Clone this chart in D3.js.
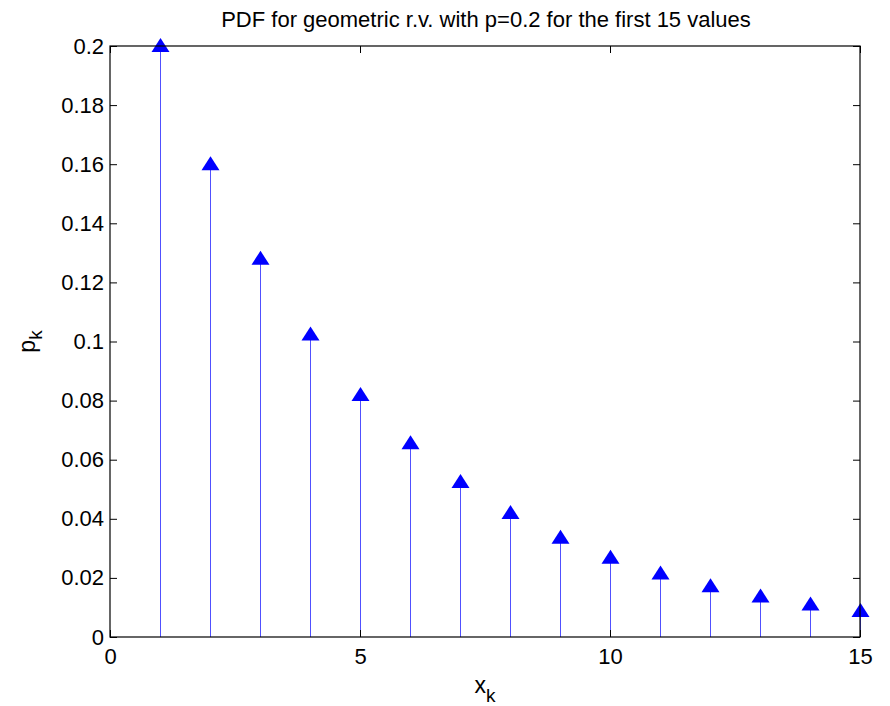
<!DOCTYPE html>
<html><head><meta charset="utf-8">
<script src="https://cdn.jsdelivr.net/npm/d3@7"></script>
<style>body{margin:0;background:#fff}svg{display:block}text{font-family:"Liberation Sans",Arial,sans-serif;fill:#000}</style>
</head><body><svg id="c" width="890" height="706"></svg>
<script>
const xk = [1,2,3,4,5,6,7,8,9,10,11,12,13,14,15];
const pk = [0.2,0.16,0.128,0.1024,0.08192,0.065536,0.0524288,0.04194304,0.033554432,0.0268435456,0.02147483648,0.017179869184,0.0137438953472,0.01099511627776,0.008796093022208];
const xTicks = [0,5,10,15];
const yTicks = [0,0.02,0.04,0.06,0.08,0.1,0.12,0.14,0.16,0.18,0.2];
const title = "PDF for geometric r.v. with p=0.2 for the first 15 values";

const svg = d3.select("#c");
const L=110,R=860,T=46,B=637;
const x = d3.scaleLinear().domain([0,15]).range([L,R]);
const y = d3.scaleLinear().domain([0,0.2]).range([B,T]);
const fs = 22;

// stems
svg.append("g").selectAll("line").data(xk).join("line")
  .attr("x1",d=>x(d)+0.5).attr("x2",d=>x(d)+0.5)
  .attr("y1",y(0)).attr("y2",(d,i)=>y(pk[i]))
  .attr("stroke","#5050ff").attr("stroke-width",1);
// markers
svg.append("g").selectAll("path").data(xk).join("path")
  .attr("d","M0,-8L9,6L-9,6Z")
  .attr("transform",(d,i)=>`translate(${x(d)+0.5},${y(pk[i])})`)
  .attr("fill","#0000ff");

// axes with inward ticks, mirrored
const tl = 7;
const gB = svg.append("g").attr("transform",`translate(0,${B})`)
  .call(d3.axisBottom(x).tickValues(xTicks).tickSize(-tl).tickPadding(11).tickFormat(d3.format("d")));
const gT = svg.append("g").attr("transform",`translate(0,${T})`)
  .call(d3.axisTop(x).tickValues(xTicks).tickSize(-tl).tickFormat(""));
const gL = svg.append("g").attr("transform",`translate(${L},0)`)
  .call(d3.axisLeft(y).tickValues(yTicks).tickSize(-tl).tickPadding(6).tickFormat(d=>String(+d.toFixed(2))));
const gR = svg.append("g").attr("transform",`translate(${R},0)`)
  .call(d3.axisRight(y).tickValues(yTicks).tickSize(-tl).tickFormat(""));
[gB,gT,gL,gR].forEach(g=>{
  g.select(".domain").remove();
  g.selectAll("line").attr("stroke","#000");
  g.selectAll("text").attr("font-size",fs).attr("font-family","Liberation Sans, Arial, sans-serif").attr("fill","#000");
});
svg.append("rect").attr("x",L).attr("y",T).attr("width",R-L).attr("height",B-T)
  .attr("fill","none").attr("stroke","#000").attr("stroke-width",1.2);

svg.append("text").attr("x",(L+R)/2+1).attr("y",27).attr("text-anchor","middle").attr("font-size",22).text(title);
const xl = svg.append("text").attr("x",(L+R)/2).attr("y",693).attr("text-anchor","middle").attr("font-size",23);
xl.append("tspan").text("x");
xl.append("tspan").attr("font-size",19).attr("dy",9).text("k");
const yl = svg.append("text").attr("transform",`translate(35,${(T+B)/2}) rotate(-90)`).attr("text-anchor","middle").attr("font-size",23);
yl.append("tspan").text("p");
yl.append("tspan").attr("font-size",19).attr("dy",7).text("k");
</script></body></html>
